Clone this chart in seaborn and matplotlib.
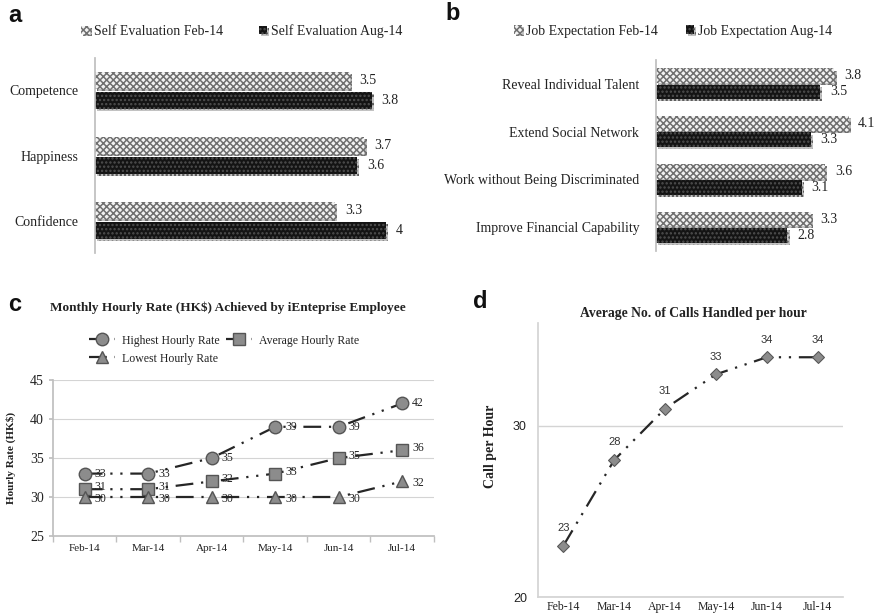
import numpy as np
import pandas as pd
import matplotlib
matplotlib.use("Agg")
import matplotlib.pyplot as plt
import seaborn as sns
from matplotlib import patheffects as pe

# ---------------- data ----------------
self_items = ["Competence", "Happiness", "Confidence"]
self_series = ["Self Evaluation Feb-14", "Self Evaluation Aug-14"]
self_feb = [3.5, 3.7, 3.3]
self_aug = [3.8, 3.6, 4.0]

job_items = ["Reveal Individual Talent", "Extend Social Network",
             "Work without Being Discriminated", "Improve Financial Capability"]
job_series = ["Job Expectation Feb-14", "Job Expectation Aug-14"]
job_feb = [3.8, 4.1, 3.6, 3.3]
job_aug = [3.5, 3.3, 3.1, 2.8]

months = ["Feb-14", "Mar-14", "Apr-14", "May-14", "Jun-14", "Jul-14"]
rate_series = ["Highest Hourly Rate", "Average Hourly Rate", "Lowest Hourly Rate"]
rate_highest = [33, 33, 35, 39, 39, 42]
rate_average = [31, 31, 32, 33, 35, 36]
rate_lowest = [30, 30, 30, 30, 30, 32]
rate_ticks = [25, 30, 35, 40, 45]

calls = [23, 28, 31, 33, 34, 34]
calls_ticks = [20, 30]

title_c = "Monthly Hourly Rate (HK$) Achieved by iEnteprise Employee"
title_d = "Average No. of Calls Handled per hour"

# ---------------- style ----------------
sns.set_theme(style="white")
plt.rcParams["font.family"] = ["Liberation Serif", "DejaVu Serif"]
plt.rcParams["hatch.linewidth"] = 1.1
TXT = "#222222"
SPINE = "#bfbfbf"

W, H = 879, 615
fig = plt.figure(figsize=(W / 100, H / 100), dpi=100)


def rect(l, t, r, b):
    return [l / W, 1 - b / H, (r - l) / W, (b - t) / H]


def bar_panel(box, items, feb, aug, series, width, gap, leg_xy, colsp):
    ax = fig.add_axes(box)
    df = pd.DataFrame({
        "item": items * 2,
        "value": feb + aug,
        "series": [series[0]] * len(items) + [series[1]] * len(items),
    })
    sns.barplot(data=df, y="item", x="value", hue="series", hue_order=series,
                order=items, orient="h", width=width, gap=gap,
                palette=["#f2f2f2", "#141414"], saturation=1, legend=False, ax=ax)
    styles = [("xxxxx", "#6f6f6f"), ("....", "#505050")]
    for cont, (hatch, ec) in zip(ax.containers, styles):
        for p in cont:
            p.set_hatch(hatch)
            p.set_edgecolor(ec)
            p.set_linewidth(0)
            p.set_path_effects([pe.SimplePatchShadow(offset=(1.5, -1.5),
                                                     shadow_rgbFace="#9a9a9a", alpha=0.6),
                                pe.Normal()])
        ax.bar_label(cont, labels=[f"{v:g}" for v in cont.datavalues],
                     padding=7, fontsize=10, color=TXT)
    ax.set_xlim(0, 4.6)
    ax.set_xlabel("")
    ax.set_ylabel("")
    ax.set_xticks([])
    for s in ["top", "right", "bottom"]:
        ax.spines[s].set_visible(False)
    ax.spines["left"].set_color(SPINE)
    ax.tick_params(axis="y", length=0, pad=12, labelsize=10, labelcolor=TXT)
    ax.legend(handles=[ax.containers[0][0], ax.containers[1][0]], labels=series,
              loc="center", bbox_to_anchor=(leg_xy[0] / W, 1 - leg_xy[1] / H),
              bbox_transform=fig.transFigure, ncol=2, frameon=False,
              handlelength=0.6, handleheight=0.6, handletextpad=0.3,
              columnspacing=colsp, fontsize=10, labelcolor=TXT)
    return ax


bar_panel(rect(95, 58, 430, 253), self_items, self_feb, self_aug, self_series,
          0.62, 0.15, (242, 31), 2.6)
bar_panel(rect(656, 60, 872, 251), job_items, job_feb, job_aug, job_series,
          0.68, 0.1, (673, 31), 2.0)

# ---------------- panel c ----------------
axc = fig.add_axes(rect(53, 380, 434, 536))
dfc = pd.DataFrame({
    "pos": list(range(len(months))) * 3,
    "rate": rate_highest + rate_average + rate_lowest,
    "series": np.repeat(rate_series, len(months)),
})
dash = (8, 3.5, 1, 3.5, 1, 3.5)
sns.lineplot(data=dfc, x="pos", y="rate", hue="series", style="series",
             hue_order=rate_series, style_order=rate_series,
             markers=["o", "s", "^"], dashes=[dash] * 3,
             palette=["#262626"] * 3, linewidth=1.6, markersize=9,
             legend=False, ax=axc)
for ln in axc.lines:
    ln.set_markerfacecolor("#8c8c8c")
    ln.set_markeredgecolor("#555555")
    ln.set_markeredgewidth(1.0)
for vals, dy in ((rate_highest, 0), (rate_average, 1.5), (rate_lowest, -1.5)):
    for i, v in enumerate(vals):
        axc.annotate(f"{v}", (i, v), xytext=(7, dy), textcoords="offset points",
                     ha="left", va="center", fontsize=8.5, color=TXT)
axc.set_xlim(-0.5, len(months) - 0.5)
axc.set_ylim(rate_ticks[0], rate_ticks[-1])
axc.set_yticks(rate_ticks)
axc.set_xticks(range(len(months)))
axc.set_xticklabels(months)
axc.set_xticks(np.arange(-0.5, len(months), 1), minor=True)
axc.tick_params(axis="x", which="major", length=0, labelsize=8, labelcolor=TXT, pad=6)
axc.tick_params(axis="x", which="minor", length=4, color=SPINE, direction="out", bottom=True)
axc.tick_params(axis="y", length=3, color=SPINE, labelsize=10, labelcolor=TXT, left=True)
axc.yaxis.grid(True, color="#d4d4d4", lw=0.8)
for s in ["top", "right"]:
    axc.spines[s].set_visible(False)
for s in ["left", "bottom"]:
    axc.spines[s].set_color(SPINE)
axc.set_xlabel("")
axc.set_ylabel("Hourly Rate (HK$)", fontweight="bold", fontsize=8, color=TXT)
axc.yaxis.set_label_coords(-0.098, 0.5)
h = axc.lines[:3]
axc.legend(handles=[h[0], h[2], h[1]],
           labels=[rate_series[0], rate_series[2], rate_series[1]],
           loc="upper left",
           bbox_to_anchor=(78 / W, 1 - 324 / H), bbox_transform=fig.transFigure,
           ncol=2, frameon=False, fontsize=8.5, handlelength=2.2,
           handletextpad=0.6, columnspacing=0.6, labelspacing=0.5, labelcolor=TXT)
fig.text(228 / W, 1 - 308 / H, title_c, ha="center", va="center",
         fontweight="bold", fontsize=9.5, color=TXT)

# ---------------- panel d ----------------
axd = fig.add_axes(rect(538, 323, 843, 597))
dfd = pd.DataFrame({"pos": range(len(months)), "calls": calls})
sns.lineplot(data=dfd, x="pos", y="calls", marker="D", color="#262626",
             linewidth=1.6, markersize=6, ax=axd)
ln = axd.lines[0]
ln.set_dashes((8, 3.5, 1, 3.5, 1, 3.5))
ln.set_markerfacecolor("#8c8c8c")
ln.set_markeredgecolor("#555555")
for i, v in enumerate(calls):
    axd.annotate(f"{v}", (i, v), xytext=(0, 9), textcoords="offset points",
                 ha="center", va="bottom", fontsize=8, color="#333333",
                 family=["Liberation Sans", "DejaVu Sans"])
axd.set_xlim(-0.5, len(months) - 0.5)
axd.set_ylim(20, 36)
axd.set_yticks(calls_ticks)
axd.set_xticks(range(len(months)))
axd.set_xticklabels(months)
axd.tick_params(axis="x", length=0, labelsize=8.5, labelcolor=TXT, pad=3)
axd.tick_params(axis="y", length=0, labelsize=9, labelcolor=TXT, pad=8)
for t in axd.get_yticklabels():
    t.set_family(["Liberation Sans", "DejaVu Sans"])
axd.yaxis.grid(True, color="#d4d4d4", lw=1.0)
for s in ["top", "right"]:
    axd.spines[s].set_visible(False)
for s in ["left", "bottom"]:
    axd.spines[s].set_color("#d4d4d4")
axd.set_xlabel("")
axd.set_ylabel("Call per Hour", fontweight="bold", fontsize=10, color=TXT)
axd.yaxis.set_label_coords(-0.135, 0.55)
fig.text(693 / W, 1 - 313 / H, title_d, ha="center", va="center",
         fontweight="bold", fontsize=9.8, color=TXT)

# ---------------- panel letters ----------------
for letter, x, y in [("a", 8, 16), ("b", 445, 14), ("c", 8, 305), ("d", 473, 302)]:
    fig.text(x / W, 1 - y / H, letter, ha="left", va="center", fontsize=17,
             fontweight="bold", family=["Liberation Sans", "DejaVu Sans"], color="#111111")

fig.savefig("out.png", dpi=100)
